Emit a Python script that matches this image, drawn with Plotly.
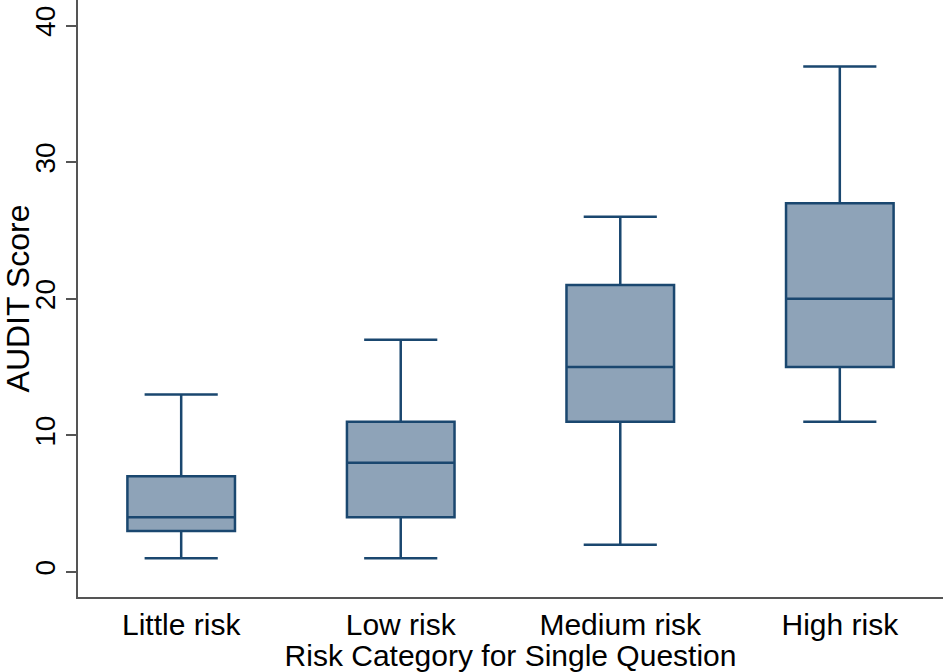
import plotly.graph_objects as go

categories = ["Little risk", "Low risk", "Medium risk", "High risk"]
lower_whisker = [1, 1, 2, 11]
q1_values = [3, 4, 11, 15]
median_values = [4, 8, 15, 20]
q3_values = [7, 11, 21, 27]
upper_whisker = [13, 17, 26, 37]
y_ticks = [0, 10, 20, 30, 40]

LINE = "#1a476f"
FILL = "#8ea3b8"
AXIS = "#555555"
FONT = "Liberation Sans, Arial, Helvetica, sans-serif"

fig = go.Figure()
fig.add_trace(go.Box(
    x=categories,
    lowerfence=lower_whisker,
    q1=q1_values,
    median=median_values,
    q3=q3_values,
    upperfence=upper_whisker,
    fillcolor=FILL,
    line=dict(color=LINE, width=2.5),
    width=0.49,
    whiskerwidth=0.68,
    boxpoints=False,
    hoverinfo="skip",
    showlegend=False,
))

fig.update_layout(
    width=943, height=672,
    margin=dict(l=78, r=0, t=0, b=75),
    paper_bgcolor="white",
    plot_bgcolor="white",
    font=dict(family=FONT, color="black"),
    xaxis=dict(
        range=[-0.47, 3.47],
        automargin=False,
        showgrid=False, zeroline=False,
        showline=True, linecolor=AXIS, linewidth=2,
        ticks="", tickfont=dict(size=30),
        title=dict(text="Risk Category for Single Question", font=dict(size=30), standoff=0),
    ),
    yaxis=dict(
        range=[-1.83, 41.87],
        automargin=False,
        tickmode="array",
        tickvals=y_ticks,
        ticktext=[str(v) for v in y_ticks],
        showgrid=False, zeroline=False,
        showline=True, linecolor=AXIS, linewidth=2,
        ticks="outside", ticklen=10, tickwidth=2, tickcolor=AXIS,
        tickangle=-90, tickfont=dict(size=28),
        title=dict(text="AUDIT Score", font=dict(size=32), standoff=10),
    ),
)

fig.write_html(
    "out.html",
    config={"displayModeBar": False, "staticPlot": True},
    post_script="document.body.style.margin='0';",
)
